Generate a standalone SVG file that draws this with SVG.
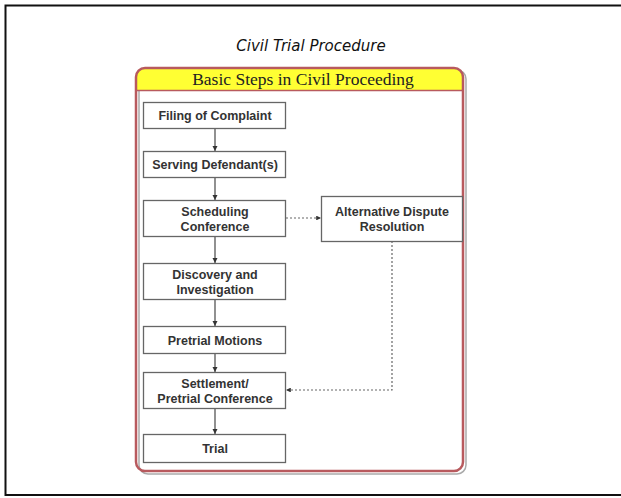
<svg xmlns="http://www.w3.org/2000/svg" width="621" height="498" viewBox="0 0 621 498">
<defs>
<style>
.node rect{fill:#fff;stroke:#666;stroke-width:1.3}
.node text{font-family:"Liberation Sans",Arial,sans-serif;font-weight:bold;font-size:12.5px;fill:#333;text-anchor:middle}
.solid{stroke:#555;stroke-width:1.3;fill:none}
.dot{stroke:#666;stroke-width:1.2;fill:none;stroke-dasharray:2 2}
</style>
<marker id="ah" viewBox="0 0 6 6" refX="6" refY="3" markerWidth="4" markerHeight="4" orient="auto">
<path d="M0,0 L6,3 L0,6 z" fill="#333"/>
</marker>
</defs>
<rect x="0" y="0" width="621" height="498" fill="#fff"/>
<rect x="5.5" y="5.5" width="620" height="489.5" fill="none" stroke="#111" stroke-width="2"/>
<text x="311" y="51" font-family="'DejaVu Sans',Verdana,sans-serif" font-style="italic" font-size="15" fill="#111" text-anchor="middle">Civil Trial Procedure</text>
<g id="frame">
<rect x="139" y="70" width="327" height="404" rx="9" fill="none" stroke="#aaa" stroke-width="1.5"/>
<path d="M136,90 V77 Q136,68 145,68 H454 Q463,68 463,77 V90 Z" fill="#ffff33"/>
<rect x="136" y="68" width="327" height="403" rx="9" fill="none" stroke="#b85a5e" stroke-width="2.5"/>
<line x1="136" y1="90.5" x2="463" y2="90.5" stroke="#b85a5e" stroke-width="1.5"/>
<text x="303" y="85" font-family="'Liberation Serif','Times New Roman',serif" font-size="17.5" fill="#222" text-anchor="middle">Basic Steps in Civil Proceeding</text>
</g>
<g id="connectors">
<line class="solid" x1="215" y1="128" x2="215" y2="151" marker-end="url(#ah)"/>
<line class="solid" x1="215" y1="178" x2="215" y2="200" marker-end="url(#ah)"/>
<line class="solid" x1="215" y1="237" x2="215" y2="263" marker-end="url(#ah)"/>
<line class="solid" x1="215" y1="299" x2="215" y2="326" marker-end="url(#ah)"/>
<line class="solid" x1="215" y1="354" x2="215" y2="372" marker-end="url(#ah)"/>
<line class="solid" x1="215" y1="408" x2="215" y2="434" marker-end="url(#ah)"/>
<line class="dot" x1="286" y1="218" x2="321" y2="218" marker-end="url(#ah)"/>
<polyline class="dot" points="392,241 392,390 286,390" marker-end="url(#ah)"/>
</g>
<g id="n1" class="node"><rect x="143.5" y="102.5" width="142" height="26"/><text x="215" y="120">Filing of Complaint</text></g>
<g id="n2" class="node"><rect x="143.5" y="151.5" width="142" height="26"/><text x="215" y="169">Serving Defendant(s)</text></g>
<g id="n3" class="node"><rect x="143.5" y="200.5" width="142" height="36"/><text x="215" y="216">Scheduling</text><text x="215" y="231">Conference</text></g>
<g id="n4" class="node"><rect x="143.5" y="263.5" width="142" height="36"/><text x="215" y="279">Discovery and</text><text x="215" y="294">Investigation</text></g>
<g id="n5" class="node"><rect x="143.5" y="326.5" width="142" height="27"/><text x="215" y="345">Pretrial Motions</text></g>
<g id="n6" class="node"><rect x="143.5" y="372.5" width="142" height="36"/><text x="215" y="388">Settlement/</text><text x="215" y="403">Pretrial Conference</text></g>
<g id="n7" class="node"><rect x="143.5" y="434.5" width="142" height="28"/><text x="215" y="453">Trial</text></g>
<g id="adr" class="node"><rect x="321.5" y="196.5" width="141" height="45"/><text x="392" y="216">Alternative Dispute</text><text x="392" y="231">Resolution</text></g>
</svg>
